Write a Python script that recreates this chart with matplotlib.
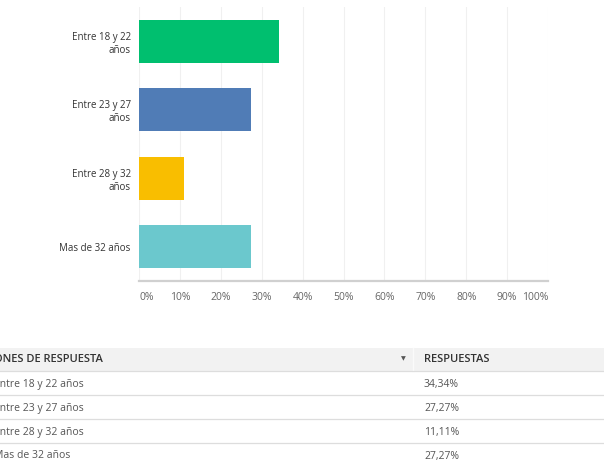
import matplotlib.pyplot as plt
from matplotlib.patches import Rectangle
from matplotlib.lines import Line2D

# Age groups and share of responses (%)
labels = ["Entre 18 y 22\naños", "Entre 23 y 27\naños", "Entre 28 y 32\naños", "Mas de 32 años"]
table_labels = ["Entre 18 y 22 años", "Entre 23 y 27 años", "Entre 28 y 32 años", "Mas de 32 años"]
values = [34.34, 27.27, 11.11, 27.27]
colors = ["#00bf6f", "#507cb6", "#f9be00", "#6bc8cd"]
xticks = [0, 10, 20, 30, 40, 50, 60, 70, 80, 90, 100]

W, H = 604, 476
fig = plt.figure(figsize=(W / 100, H / 100), dpi=100)
plt.rcParams["font.family"] = ["Open Sans", "DejaVu Sans"]


def fx(px):
    return px / W


def fy(py):
    return 1 - py / H


ax = fig.add_axes([fx(139), fy(281), fx(548) - fx(139), fy(7) - fy(281)])
ax.barh(range(len(values)), values, height=0.63, color=colors, zorder=3)
ax.set_xlim(0, 100)
ax.set_ylim(3.5, -0.5)
ax.set_xticks(xticks)
ax.set_xticklabels([f"{t}%" for t in xticks], fontsize=7.5, color="#666666")
ax.set_yticks(range(len(labels)))
ax.set_yticklabels(labels, fontsize=7, color="#333333", linespacing=1.25)
ax.tick_params(length=0, pad=6)
ax.tick_params(axis="x", pad=8)
tl = ax.get_xticklabels()
tl[0].set_ha("left")
tl[-1].set_ha("right")
ax.grid(axis="x", color="#f0f0f0", linewidth=0.8, zorder=0)
for s in ["top", "right", "left"]:
    ax.spines[s].set_visible(False)
ax.spines["bottom"].set_color("#d0d0d0")
ax.spines["bottom"].set_linewidth(1.6)

# table below the chart
fig.add_artist(Rectangle((0, fy(371)), 1, fy(348) - fy(371), transform=fig.transFigure,
                         facecolor="#f2f2f2", edgecolor="none"))
fig.add_artist(Line2D([fx(413), fx(413)], [fy(371), fy(348)], color="#fafafa", linewidth=1))
for yl in [371, 395, 419, 443]:
    fig.add_artist(Line2D([0, 1], [fy(yl), fy(yl)], color="#dddddd", linewidth=0.9))

fig.text(fx(-32), fy(360), "OPCIONES DE RESPUESTA", fontsize=8, color="#333333",
         weight="semibold", va="center", ha="left")
fig.text(fx(403), fy(359), "▼", fontsize=4.5, color="#555555", va="center", ha="center",
         family="DejaVu Sans")
fig.text(fx(424), fy(360), "RESPUESTAS", fontsize=8, color="#333333",
         weight="semibold", va="center", ha="left")

row_y = [384, 408, 432, 456]
for lab, v, yy in zip(table_labels, values, row_y):
    fig.text(fx(-6.5), fy(yy), lab, fontsize=7.5, color="#555555", va="center", ha="left")
    fig.text(fx(424), fy(yy), f"{v:.2f}%".replace(".", ","), fontsize=7.5, color="#555555",
             va="center", ha="left")

fig.savefig("out.png", dpi=100, facecolor="white")
